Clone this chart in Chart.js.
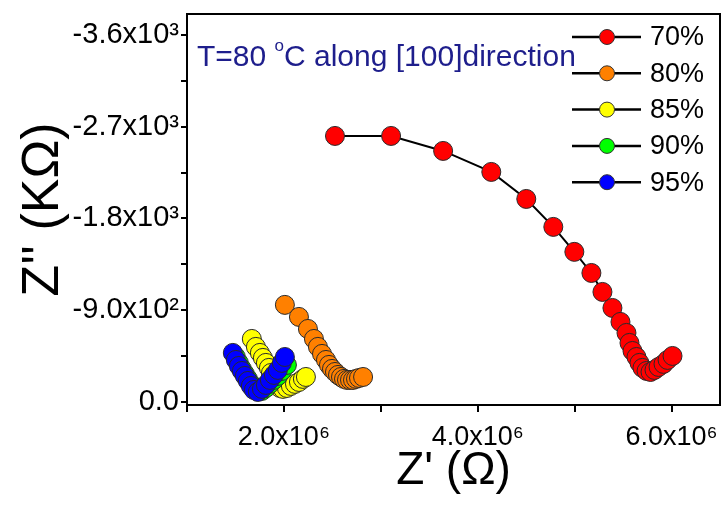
<!DOCTYPE html>
<html>
<head>
<meta charset="utf-8">
<script src="https://cdn.jsdelivr.net/npm/chart.js@4.4.1/dist/chart.umd.min.js"></script>
<style>
  html, body { margin: 0; padding: 0; background: #fff; }
  #wrap { width: 723px; height: 505px; position: relative; }
</style>
</head>
<body>
<div id="wrap"><canvas id="c" width="723" height="505"></canvas></div>
<script>
// ---- data ----
const seriesLabels = ['70%', '80%', '85%', '90%', '95%'];
const seriesColors = ['#ff0000', '#ff8000', '#ffff00', '#00ff00', '#0000ff'];

const zr70 = [2.527e6, 3.106e6, 3.643e6, 4.140e6, 4.501e6, 4.780e6, 4.997e6, 5.173e6, 5.287e6, 5.390e6, 5.473e6, 5.535e6, 5.566e6, 5.597e6, 5.638e6, 5.669e6, 5.700e6, 5.742e6, 5.783e6, 5.824e6, 5.866e6, 5.917e6, 5.959e6, 6.010e6];
const zi70 = [-2609, -2609, -2462, -2256, -1991, -1717, -1472, -1265, -1079, -922, -785, -677, -579, -500, -441, -383, -334, -304, -294, -314, -343, -373, -412, -451];

const zr80 = [2.010e6, 2.155e6, 2.248e6, 2.310e6, 2.351e6, 2.393e6, 2.434e6, 2.465e6, 2.496e6, 2.527e6, 2.558e6, 2.589e6, 2.620e6, 2.651e6, 2.682e6, 2.713e6, 2.744e6, 2.775e6, 2.817e6];
const zi80 = [-952, -834, -716, -618, -540, -471, -412, -363, -324, -294, -265, -245, -226, -216, -216, -216, -226, -235, -245];

const zr85 = [1.669e6, 1.711e6, 1.752e6, 1.783e6, 1.814e6, 1.845e6, 1.866e6, 1.886e6, 1.907e6, 1.928e6, 1.959e6, 1.990e6, 2.031e6, 2.072e6, 2.114e6, 2.155e6, 2.196e6, 2.227e6];
const zi85 = [-618, -540, -481, -432, -383, -334, -284, -245, -206, -167, -137, -128, -137, -157, -177, -196, -226, -245];

const zr90 = [1.504e6, 1.535e6, 1.566e6, 1.597e6, 1.628e6, 1.659e6, 1.690e6, 1.731e6, 1.773e6, 1.814e6, 1.855e6, 1.897e6, 1.938e6, 1.979e6, 2.031e6];
const zi90 = [-441, -383, -324, -275, -226, -177, -137, -108, -108, -137, -177, -216, -255, -304, -363];

const zr95 = [1.473e6, 1.504e6, 1.535e6, 1.566e6, 1.597e6, 1.628e6, 1.659e6, 1.690e6, 1.731e6, 1.773e6, 1.814e6, 1.855e6, 1.897e6, 1.938e6, 1.979e6, 2.010e6];
const zi95 = [-481, -412, -353, -304, -255, -206, -157, -118, -98, -128, -167, -216, -265, -314, -383, -441];

const xTickValues = [1e6, 2e6, 3e6, 4e6, 5e6, 6e6];
const yTickValues = [-3600, -3150, -2700, -2250, -1800, -1350, -900, -450, 0];
const xTickLabels = {2000000: '2.0x10\u2076', 4000000: '4.0x10\u2076', 6000000: '6.0x10\u2076'};
const yTickLabels = {'-3600': '-3.6x10\u00b3', '-2700': '-2.7x10\u00b3', '-1800': '-1.8x10\u00b3', '-900': '-9.0x10\u00b2', '0': '0.0'};
const annotationText = ['T=80 ', 'o', 'C along [100]direction'];

const xs = [zr70, zr80, zr85, zr90, zr95];
const ys = [zi70, zi80, zi85, zi90, zi95];

const FONT = "'Liberation Sans', Arial, sans-serif";

const datasets = seriesLabels.map((lab, i) => ({
  label: lab,
  data: xs[i].map((x, k) => ({x: x, y: ys[i][k]})),
  showLine: true,
  borderColor: '#000',
  borderWidth: 2,
  backgroundColor: seriesColors[i],
  pointBackgroundColor: seriesColors[i],
  pointBorderColor: '#2a2a2a',
  pointBorderWidth: 1,
  pointRadius: 9.5,
  pointHoverRadius: 9.5,
  order: seriesLabels.length - 1 - i,
  clip: false
}));

const boxPlugin = {
  id: 'box',
  afterDraw(chart) {
    const {ctx, chartArea: a} = chart;
    ctx.save();
    ctx.strokeStyle = '#000';
    ctx.lineWidth = 2;
    ctx.strokeRect(a.left, a.top, a.right - a.left, a.bottom - a.top);
    ctx.restore();
  }
};

const legendPlugin = {
  id: 'customLegend',
  afterDraw(chart) {
    const {ctx} = chart;
    ctx.save();
    chart.data.datasets.forEach((ds, i) => {
      const y = 37 + i * 36.3;
      ctx.strokeStyle = '#000';
      ctx.lineWidth = 2.5;
      ctx.beginPath();
      ctx.moveTo(572, y);
      ctx.lineTo(641, y);
      ctx.stroke();
      ctx.beginPath();
      ctx.arc(607, y, 7.5, 0, Math.PI * 2);
      ctx.fillStyle = ds.pointBackgroundColor;
      ctx.fill();
      ctx.lineWidth = 1;
      ctx.strokeStyle = '#333';
      ctx.stroke();
      ctx.fillStyle = '#000';
      ctx.font = '27px ' + FONT;
      ctx.textBaseline = 'middle';
      ctx.textAlign = 'left';
      ctx.fillText(ds.label, 650, y + 1);
    });
    ctx.restore();
  }
};

const annotationPlugin = {
  id: 'annot',
  afterDraw(chart) {
    const {ctx} = chart;
    ctx.save();
    ctx.fillStyle = '#1e1e8c';
    ctx.textBaseline = 'alphabetic';
    ctx.textAlign = 'left';
    let x = 197;
    const base = 66;
    ctx.font = '30px ' + FONT;
    ctx.fillText(annotationText[0], x, base);
    x += ctx.measureText(annotationText[0]).width;
    ctx.font = '17px ' + FONT;
    ctx.fillText(annotationText[1], x, base - 15);
    x += ctx.measureText(annotationText[1]).width;
    ctx.font = '30px ' + FONT;
    ctx.fillText(annotationText[2], x, base);
    ctx.restore();
  }
};

new Chart(document.getElementById('c'), {
  type: 'scatter',
  data: {datasets},
  plugins: [boxPlugin, legendPlugin, annotationPlugin],
  options: {
    responsive: false,
    animation: false,
    layout: {autoPadding: false, padding: {top: 14, right: 3, left: 0, bottom: 0}},
    plugins: {legend: {display: false}, tooltip: {enabled: false}},
    scales: {
      x: {
        type: 'linear',
        min: 1.0e6,
        max: 6.5e6,
        afterBuildTicks(s) { s.ticks = xTickValues.map(v => ({value: v})); },
        afterFit(s) { s.height = 100; s.paddingLeft = 0; s.paddingRight = 0; },
        border: {display: true, color: '#000', width: 2},
        grid: {drawOnChartArea: false, drawTicks: true, tickLength: 7, color: '#000', lineWidth: 2},
        ticks: {
          maxRotation: 0,
          autoSkip: false,
          color: '#000',
          padding: 9,
          font: {family: FONT, size: 27},
          callback: (v) => xTickLabels[v] !== undefined ? xTickLabels[v] : ''
        },
        title: {
          display: true,
          text: "Z' (\u03a9)",
          color: '#000',
          font: {family: FONT, size: 46},
          padding: {top: 0, bottom: 6}
        }
      },
      y: {
        type: 'linear',
        reverse: true,
        min: -3805,
        max: 30,
        afterBuildTicks(s) { s.ticks = yTickValues.map(v => ({value: v})); },
        afterFit(s) { s.width = 187; s.paddingTop = 0; s.paddingBottom = 0; },
        border: {display: true, color: '#000', width: 2},
        grid: {drawOnChartArea: false, drawTicks: true, tickLength: 6, color: '#000', lineWidth: 2},
        ticks: {
          autoSkip: false,
          color: '#000',
          padding: 2,
          font: {family: FONT, size: 29},
          callback: (v) => yTickLabels[String(v)] !== undefined ? yTickLabels[String(v)] : ''
        },
        title: {
          display: true,
          text: "Z'' (K\u03a9)",
          color: '#000',
          font: {family: FONT, size: 52},
          padding: {top: 12, bottom: 0}
        }
      }
    }
  }
});
</script>
</body>
</html>
